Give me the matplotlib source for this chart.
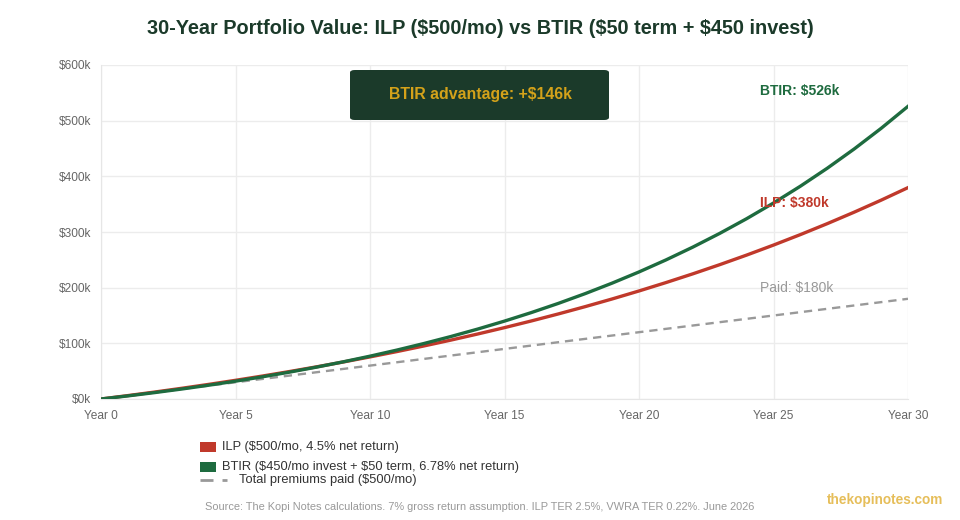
import matplotlib
matplotlib.use("Agg")
import matplotlib.pyplot as plt
from matplotlib.patches import Rectangle, FancyBboxPatch
from matplotlib.lines import Line2D

plt.rcParams['font.family'] = ['Liberation Sans', 'DejaVu Sans']
plt.rcParams['text.parse_math'] = False

years = list(range(0, 31))
ilp = [0, 6.13, 12.53, 19.23, 26.24, 33.57, 41.24, 49.26, 57.65, 66.43, 75.60,
       85.20, 95.24, 105.74, 116.72, 128.21, 140.23, 152.80, 165.94, 179.69, 194.07,
       209.11, 224.84, 241.30, 258.51, 276.51, 295.34, 315.03, 335.63, 357.17, 379.71]
btir = [0, 5.57, 11.53, 17.91, 24.73, 32.04, 39.85, 48.21, 57.15, 66.72, 76.95,
        87.91, 99.63, 112.17, 125.58, 139.94, 155.30, 171.73, 189.31, 208.13, 228.25,
        249.79, 272.83, 297.49, 323.87, 352.09, 382.29, 414.60, 449.17, 486.16, 525.74]
paid = [6 * y for y in years]
xtick_years = [0, 5, 10, 15, 20, 25, 30]
ytick_vals = [0, 100, 200, 300, 400, 500, 600]

title = "30-Year Portfolio Value: ILP ($500/mo) vs BTIR ($50 term + $450 invest)"
legend_labels = ["ILP ($500/mo, 4.5% net return)",
                 "BTIR ($450/mo invest + $50 term, 6.78% net return)",
                 "Total premiums paid ($500/mo)"]
source = "Source: The Kopi Notes calculations. 7% gross return assumption. ILP TER 2.5%, VWRA TER 0.22%. June 2026"

RED = "#c0392b"
GREEN = "#1e6b3f"
GREY = "#999999"
DARK = "#1b3a2a"
GOLD = "#d4a21a"

W, H = 960, 520
fig = plt.figure(figsize=(W / 100, H / 100), dpi=100)
fig.patch.set_facecolor("white")

def fx(px):
    return px / W

def fy(py):
    return 1 - py / H

ax = fig.add_axes([fx(101), fy(399), fx(908) - fx(101), fy(65) - fy(399)])
ax.set_xlim(0, 30)
ax.set_ylim(0, 600)

ax.plot(years, paid, color=GREY, lw=1.7, ls=(0, (3.5, 2.5)), zorder=2)
ax.plot(years, ilp, color=RED, lw=2.4, zorder=3)
ax.plot(years, btir, color=GREEN, lw=2.4, zorder=4)

ax.set_xticks(xtick_years)
ax.set_xticklabels([f"Year {y}" for y in xtick_years])
ax.set_yticks(ytick_vals)
ax.set_yticklabels([f"${v}k" for v in ytick_vals])
ax.tick_params(axis='both', length=0, labelsize=8.6, colors="#666666")
ax.tick_params(axis='x', pad=8)
ax.tick_params(axis='y', pad=7)
ax.grid(True, color="#ececec", lw=1)
for s in ax.spines.values():
    s.set_visible(False)
ax.spines['left'].set_visible(True)
ax.spines['left'].set_color("#e6e6e6")
ax.spines['bottom'].set_visible(True)
ax.spines['bottom'].set_color("#e6e6e6")

# end labels
ax.text(24.5, 553, f"BTIR: ${btir[-1]:.0f}k", color=GREEN, fontsize=10, fontweight='bold',
        ha='left', va='center', zorder=6)
ax.text(24.5, 352, f"ILP: ${ilp[-1]:.0f}k", color=RED, fontsize=10, fontweight='bold',
        ha='left', va='center', zorder=6)
ax.text(24.5, 199, f"Paid: ${paid[-1]:.0f}k", color=GREY, fontsize=10,
        ha='left', va='center', zorder=6)

# advantage box
box = FancyBboxPatch((fx(350), fy(120)), fx(609) - fx(350), fy(70) - fy(120),
                     boxstyle="round,pad=0,rounding_size=0.005", transform=fig.transFigure,
                     facecolor=DARK, edgecolor="none", zorder=10)
fig.patches.append(box)
adv = btir[-1] - ilp[-1]
fig.text(fx(480), fy(95), f"BTIR advantage: +${adv:.0f}k", color=GOLD, fontsize=11.4,
         fontweight='bold', ha='center', va='center', zorder=11)

# title
fig.text(0.5, fy(28), title, ha='center', va='center', fontsize=14.3, fontweight='bold', color=DARK)

# legend
fig.patches.append(Rectangle((fx(200), fy(452)), fx(16), fy(442) - fy(452), transform=fig.transFigure,
                             facecolor=RED, edgecolor='none'))
fig.text(fx(222), fy(447), legend_labels[0], fontsize=9.3, color="#333333", va='center', ha='left')
fig.patches.append(Rectangle((fx(200), fy(472)), fx(16), fy(462) - fy(472), transform=fig.transFigure,
                             facecolor=GREEN, edgecolor='none'))
fig.text(fx(222), fy(467), legend_labels[1], fontsize=9.3, color="#333333", va='center', ha='left')
for x0, x1 in [(200, 213), (222, 227)]:
    fig.lines.append(Line2D([fx(x0), fx(x1)], [fy(480), fy(480)], transform=fig.transFigure,
                            color=GREY, lw=2.0, solid_capstyle='butt'))
fig.text(fx(239), fy(480), legend_labels[2], fontsize=9.3, color="#333333", va='center', ha='left')

# source & brand
fig.text(fx(205), fy(507), source, fontsize=7.95, color="#999999", va='center', ha='left')
fig.text(fx(943), fy(500), "thekopinotes.com", fontsize=9.8, color="#e6be5a", fontweight='bold',
         va='center', ha='right')

fig.savefig("out.png", dpi=100, facecolor="white")
